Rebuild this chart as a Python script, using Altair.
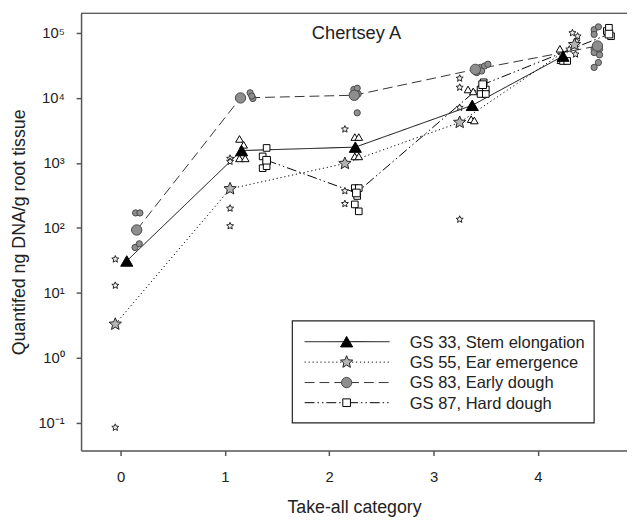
import altair as alt
import pandas as pd

# ---------------- data ----------------
series_names = ["GS 33, Stem elongation", "GS 55, Ear emergence",
                "GS 83, Early dough", "GS 87, Hard dough"]

# means (large markers, joined by lines)
gs33_mean_x = [0.06, 1.16, 2.25, 3.37, 4.24]
gs33_mean_y = [31, 1550, 1750, 7700, 44000]
gs55_mean_x = [-0.05, 1.05, 2.15, 3.25, 4.35]
gs55_mean_y = [3.3, 400, 980, 4200, 66000]
gs83_mean_x = [0.155, 1.15, 2.24, 3.40, 4.57]
gs83_mean_y = [93, 10000, 11000, 27500, 63000]
gs87_mean_x = [1.40, 2.26, 3.47, 4.68]
gs87_mean_y = [1100, 345, 16000, 96000]

# individual samples (small markers)
gs33_pt_x = [1.14, 1.18, 1.14, 1.195, 2.245, 2.283, 2.245, 2.283,
             3.33, 3.38, 3.36, 3.39, 4.21, 4.25, 4.22]
gs33_pt_y = [2340, 1900, 1175, 1175, 2500, 2500, 1260, 1260,
             13500, 12600, 4700, 4500, 57000, 40000, 38000]
gs55_pt_x = [-0.05, -0.05, -0.05, 1.05, 1.05, 1.05, 1.05, 2.15, 2.15, 2.15,
             3.25, 3.25, 3.25, 3.25, 4.33, 4.38, 4.36, 4.30, 4.37]
gs55_pt_y = [33, 13, 0.085, 1170, 1050, 200, 107, 3300, 370, 235,
             20000, 14500, 7100, 135, 100000, 89000, 47000, 56000, 74000]
gs83_pt_x = [0.145, 0.186, 0.139, 0.18, 1.242, 1.268, 1.258,
             2.236, 2.268, 2.226, 2.277, 2.268,
             3.413, 3.413, 3.45, 3.488, 3.52, 3.46,
             4.538, 4.579, 4.538, 4.538, 4.59, 4.538, 4.59, 4.579, 4.538]
gs83_pt_y = [170, 170, 50, 57, 12000, 9800, 10700,
             13500, 14100, 11500, 11500, 5900,
             27500, 24500, 29500, 31000, 33000, 26000,
             112000, 124000, 95000, 56000, 56000, 50000, 46000, 35000, 29500]
gs87_pt_x = [1.40, 1.362, 1.40, 1.362, 1.40, 2.245, 2.283, 2.268, 2.245, 2.283,
             3.48, 3.45, 3.50, 3.45, 3.50, 4.66, 4.70, 4.68, 4.24, 4.28]
gs87_pt_y = [1700, 1260, 1050, 830, 890, 410, 410, 310, 230, 180,
             17400, 13500, 13500, 11500, 11500, 107000, 89000, 120000, 37000, 37000]

y_tick_values = [0.1, 1, 10, 100, 1000, 10000, 100000]
x_tick_values = [0, 1, 2, 3, 4]
panel_title = "Chertsey A"
x_title = "Take-all category"
y_title = "Quantifed ng DNA/g root tissue"

# ---------------- layout / style ----------------
W, H = 553, 443
FONT = "Liberation Sans"
STAR = ("M0,-1L0.27,-0.37L0.951,-0.309L0.43,0.14L0.588,0.809L0,0.46"
        "L-0.588,0.809L-0.43,0.14L-0.951,-0.309L-0.27,-0.37Z")

styles = [
    dict(shape="triangle-up", mfill="black", mstroke="black", msize=150,
         pfill="white", pstroke="black", psize=60, dash=[1, 0], lcolor="black"),
    dict(shape=STAR, mfill="#b4b4b4", mstroke="#222", msize=170,
         pfill="#f0f0f0", pstroke="#222", psize=55, dash=[1.2, 2.8], lcolor="black"),
    dict(shape="circle", mfill="#8e8e8e", mstroke="#4a4a4a", msize=110,
         pfill="#8e8e8e", pstroke="#4a4a4a", psize=40, dash=[10, 5], lcolor="#333"),
    dict(shape="square", mfill="white", mstroke="black", msize=60,
         pfill="white", pstroke="black", psize=45, dash=[10, 3, 1.5, 3, 1.5, 3], lcolor="black"),
]

means = [(gs33_mean_x, gs33_mean_y), (gs55_mean_x, gs55_mean_y),
         (gs83_mean_x, gs83_mean_y), (gs87_mean_x, gs87_mean_y)]
points = [(gs33_pt_x, gs33_pt_y), (gs55_pt_x, gs55_pt_y),
          (gs83_pt_x, gs83_pt_y), (gs87_pt_x, gs87_pt_y)]

label_expr = ("round(log(datum.value)/LN10) == 5 ? '10⁵' : "
              "round(log(datum.value)/LN10) == 4 ? '10⁴' : "
              "round(log(datum.value)/LN10) == 3 ? '10³' : "
              "round(log(datum.value)/LN10) == 2 ? '10²' : "
              "round(log(datum.value)/LN10) == 1 ? '10¹' : "
              "round(log(datum.value)/LN10) == 0 ? '10⁰' : '10⁻¹'")

X = alt.X("x:Q",
          scale=alt.Scale(domain=[-0.378, 4.853], nice=False, zero=False),
          axis=alt.Axis(values=x_tick_values, title=x_title, format="d",
                        titleY=63, titleBaseline="alphabetic", labelPadding=14,
                        labelFontSize=15))
Y = alt.Y("y:Q",
          scale=alt.Scale(type="log", domain=[0.0375, 201000], nice=False),
          axis=alt.Axis(values=y_tick_values, title=y_title, labelExpr=label_expr,
                        titleAngle=270, titleX=-57, titleY=221.5,
                        titleBaseline="alphabetic", titleAlign="center",
                        labelPadding=12, labelFontSize=15))

layers = []
# lines
for i, (mx, my) in enumerate(means):
    st = styles[i]
    df = pd.DataFrame({"x": mx, "y": my})
    layers.append(alt.Chart(df).mark_line(color=st["lcolor"], strokeWidth=1,
                                          strokeDash=st["dash"])
                  .encode(x=X, y=Y))
# individual points
for i, (px, py) in enumerate(points):
    st = styles[i]
    df = pd.DataFrame({"x": px, "y": py})
    layers.append(alt.Chart(df).mark_point(shape=st["shape"], filled=True,
                                           fill=st["pfill"], stroke=st["pstroke"],
                                           strokeWidth=1, size=st["psize"],
                                           opacity=1, fillOpacity=1)
                  .encode(x=X, y=Y))
# means
for i, (mx, my) in enumerate(means):
    st = styles[i]
    df = pd.DataFrame({"x": mx, "y": my})
    layers.append(alt.Chart(df).mark_point(shape=st["shape"], filled=True,
                                           fill=st["mfill"], stroke=st["mstroke"],
                                           strokeWidth=1, size=st["msize"],
                                           opacity=1, fillOpacity=1)
                  .encode(x=X, y=Y))

one = pd.DataFrame({"k": [0]})
# top border
layers.append(alt.Chart(one).mark_rule(color="#222", strokeWidth=1)
              .encode(x=alt.value(0), x2=alt.value(W), y=alt.value(0)))
# panel title
layers.append(alt.Chart(pd.DataFrame({"t": [panel_title]}))
              .mark_text(font=FONT, fontSize=18.5, color="#222", baseline="alphabetic",
                         align="center")
              .encode(x=alt.value(279), y=alt.value(26.5), text="t:N"))

# legend
bx0, bx1, by0, by1 = 214, 519.7, 311.7, 415
layers.append(alt.Chart(one).mark_rect(fill="white", stroke="#222", strokeWidth=1.2)
              .encode(x=alt.value(bx0), x2=alt.value(bx1),
                      y=alt.value(by0), y2=alt.value(by1)))
row_y = [332.7, 353.4, 374.1, 394.5]
for i, name in enumerate(series_names):
    st = styles[i]
    ry = row_y[i]
    layers.append(alt.Chart(one).mark_rule(color=st["lcolor"], strokeWidth=1,
                                           strokeDash=st["dash"])
                  .encode(x=alt.value(226.5), x2=alt.value(312.5), y=alt.value(ry)))
    layers.append(alt.Chart(one).mark_point(shape=st["shape"], filled=True,
                                            fill=st["mfill"], stroke=st["mstroke"],
                                            strokeWidth=1, size=st["msize"],
                                            opacity=1, fillOpacity=1)
                  .encode(x=alt.value(269), y=alt.value(ry)))
    layers.append(alt.Chart(pd.DataFrame({"t": [name]}))
                  .mark_text(font=FONT, fontSize=16.7, color="#222", align="left",
                             baseline="middle")
                  .encode(x=alt.value(333), y=alt.value(ry + 1), text="t:N"))

chart = alt.layer(*layers).properties(
    width=W, height=H,
    autosize=alt.AutoSizeParams(type="none"),
    padding={"left": 74, "top": 2, "right": 0, "bottom": 66},
).configure_view(stroke=None).configure_axis(
    grid=False, domainColor="#555", domainWidth=1.5, tickColor="#555",
    tickWidth=1.5, tickSize=5, labelFont=FONT, labelColor="#222",
    titleFont=FONT, titleFontSize=18, titleFontWeight="normal", titleColor="#222",
)

chart.save("out.html", embed_options={"renderer": "svg", "actions": False})
